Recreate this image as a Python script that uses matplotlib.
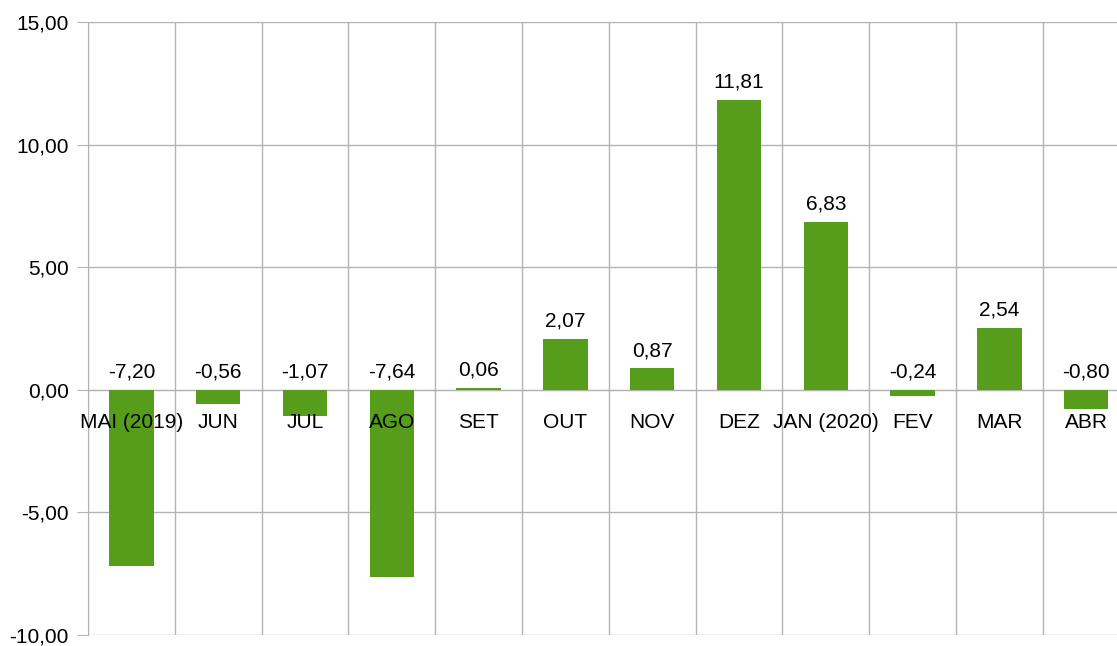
import matplotlib.pyplot as plt
from matplotlib.ticker import FuncFormatter, MultipleLocator, FixedLocator

# --- dados ---
meses = ['MAI (2019)', 'JUN', 'JUL', 'AGO', 'SET', 'OUT', 'NOV',
         'DEZ', 'JAN (2020)', 'FEV', 'MAR', 'ABR']
valores = [-7.20, -0.56, -1.07, -7.64, 0.06, 2.07, 0.87,
           11.81, 6.83, -0.24, 2.54, -0.80]

verde = '#579d1c'
cinza = '#b3b3b3'
fs = 15

plt.rcParams['font.family'] = ['Liberation Sans', 'DejaVu Sans']

fig = plt.figure(figsize=(11.17, 6.46), dpi=100)
# a area do grafico passa um pouco da borda direita, como no original
ax = fig.add_axes([88 / 1117, 11 / 646, 12 * 86.8 / 1117, 613 / 646])

x = list(range(len(meses)))
ax.bar(x, valores, width=0.51, color=verde, zorder=3)

def virgula(v, pos=None):
    return f'{v:.2f}'.replace('.', ',')

# rotulos dos valores (negativos ficam acima do zero)
for xi, v in zip(x, valores):
    ax.annotate(virgula(v), (xi, max(v, 0)), xytext=(0, 6),
                textcoords='offset points', ha='center', va='bottom',
                fontsize=fs, color='black', zorder=4)

# nomes dos meses logo abaixo da linha do zero, por cima das barras
for xi, m in zip(x, meses):
    ax.annotate(m, (xi, 0), xytext=(0, -16.5), textcoords='offset points',
                ha='center', va='top', fontsize=fs, color='black', zorder=5)

ax.set_xlim(-0.5, len(meses) - 0.5)
ax.set_ylim(-10, 15)
ax.yaxis.set_major_locator(MultipleLocator(5))
ax.yaxis.set_major_formatter(FuncFormatter(virgula))

ax.set_xticks([])
ax.xaxis.set_minor_locator(FixedLocator([i - 0.5 for i in range(len(meses) + 1)]))

ax.spines['top'].set_visible(False)
ax.spines['right'].set_visible(False)
ax.spines['left'].set_color(cinza)
ax.spines['bottom'].set_position(('data', 0))
ax.spines['bottom'].set_color(cinza)

ax.tick_params(axis='x', which='minor', length=4, color=cinza)
ax.tick_params(axis='y', length=8, color=cinza, pad=6, labelsize=fs)

ax.grid(True, axis='y', color=cinza, linewidth=1, zorder=0)
ax.grid(True, axis='x', which='minor', color=cinza, linewidth=1, zorder=0)
ax.set_axisbelow(True)

fig.savefig('out.png', dpi=100)
